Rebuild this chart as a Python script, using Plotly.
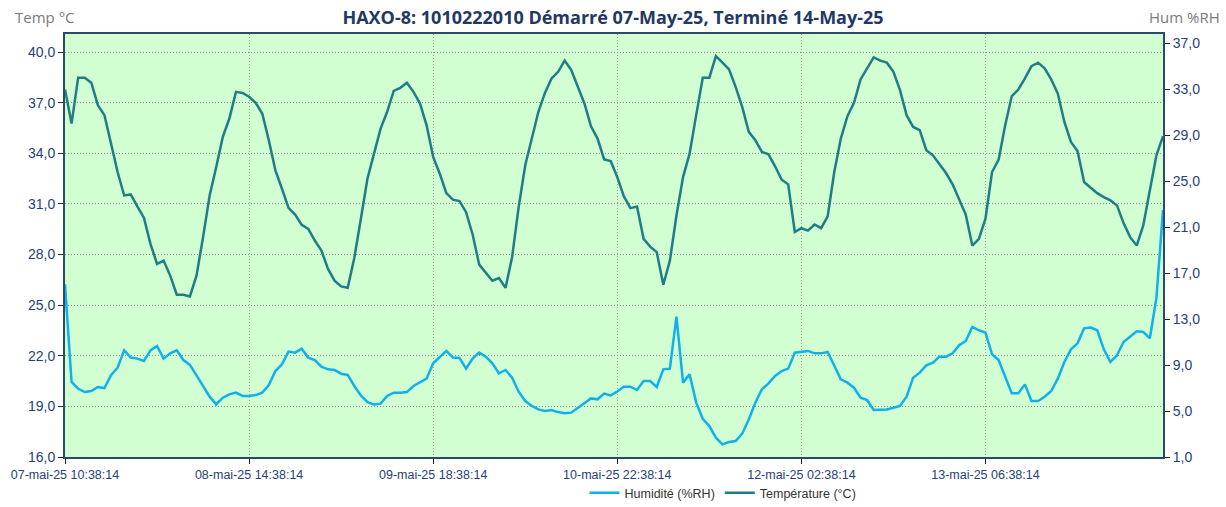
import pandas as pd
import plotly.graph_objects as go

# ---------------- data ----------------
start_time = "2025-05-07 10:38:14"
n_points = 168  # hourly readings

temperature = [
    37.78, 35.76, 38.47, 38.47, 38.18, 36.85, 36.26, 34.57, 32.89, 31.50,
    31.56, 30.85, 30.18, 28.63, 27.44, 27.64, 26.75, 25.62, 25.62, 25.52,
    26.75, 29.03, 31.50, 33.19, 34.97, 36.06, 37.64, 37.58, 37.35, 36.99,
    36.36, 34.77, 32.99, 31.90, 30.77, 30.37, 29.76, 29.52, 28.83, 28.24,
    27.15, 26.45, 26.11, 26.03, 27.79, 30.12, 32.49, 33.98, 35.46, 36.46,
    37.70, 37.88, 38.18, 37.64, 36.95, 35.66, 33.78, 32.79, 31.64, 31.25,
    31.17, 30.51, 29.19, 27.40, 26.95, 26.45, 26.61, 26.02, 27.84, 30.81,
    33.29, 34.87, 36.46, 37.58, 38.44, 38.83, 39.49, 38.93, 37.90, 36.95,
    35.60, 34.87, 33.64, 33.54, 32.59, 31.44, 30.75, 30.85, 28.93, 28.47,
    28.14, 26.21, 27.64, 30.31, 32.59, 33.98, 36.26, 38.48, 38.48, 39.76,
    39.37, 38.97, 37.94, 36.75, 35.27, 34.77, 34.08, 33.94, 33.23, 32.43,
    32.16, 29.33, 29.56, 29.42, 29.78, 29.56, 30.26, 32.89, 34.87, 36.20,
    36.99, 38.38, 39.03, 39.68, 39.49, 39.37, 38.83, 37.74, 36.26, 35.56,
    35.37, 34.18, 33.88, 33.38, 32.83, 32.16, 31.21, 30.37, 28.53, 28.93,
    30.12, 32.89, 33.62, 35.66, 37.39, 37.78, 38.44, 39.17, 39.37, 39.03,
    38.38, 37.54, 35.86, 34.67, 34.14, 32.30, 31.96, 31.64, 31.40, 31.21,
    30.91, 29.86, 29.03, 28.53, 29.72, 31.80, 33.88, 35.01,
]

humidity = [
    16.03, 7.53, 6.94, 6.65, 6.74, 7.09, 7.00, 8.11, 8.77, 10.28,
    9.65, 9.56, 9.36, 10.28, 10.66, 9.56, 10.02, 10.28, 9.44, 9.01,
    8.11, 7.18, 6.25, 5.58, 6.16, 6.45, 6.60, 6.31, 6.31, 6.39,
    6.60, 7.26, 8.48, 9.07, 10.17, 10.08, 10.43, 9.65, 9.44, 8.86,
    8.63, 8.57, 8.25, 8.14, 7.18, 6.36, 5.78, 5.58, 5.64, 6.31,
    6.60, 6.60, 6.65, 7.18, 7.47, 7.82, 9.15, 9.65, 10.23, 9.65,
    9.62, 8.69, 9.56, 10.08, 9.73, 9.15, 8.28, 8.57, 7.90, 6.68,
    5.87, 5.44, 5.14, 5.00, 5.09, 4.91, 4.80, 4.86, 5.29, 5.73,
    6.10, 6.02, 6.52, 6.36, 6.70, 7.12, 7.12, 6.83, 7.61, 7.61,
    7.09, 8.63, 8.69, 13.22, 7.47, 8.19, 5.73, 4.33, 3.69, 2.68,
    2.10, 2.30, 2.39, 3.03, 4.27, 5.73, 6.89, 7.41, 8.05, 8.48,
    8.69, 10.08, 10.14, 10.23, 10.02, 10.02, 10.14, 8.92, 7.76, 7.47,
    7.03, 6.16, 5.96, 5.09, 5.09, 5.14, 5.29, 5.44, 6.25, 7.90,
    8.34, 8.98, 9.21, 9.73, 9.73, 10.02, 10.72, 11.10, 12.32, 12.03,
    11.82, 9.94, 9.44, 8.05, 6.54, 6.54, 7.32, 5.87, 5.87, 6.25,
    6.74, 7.82, 9.27, 10.37, 10.89, 12.20, 12.26, 12.03, 10.37, 9.27,
    9.85, 11.01, 11.47, 11.94, 11.88, 11.33, 14.85, 22.49,
]

x_tick_labels = [
    "07-mai-25 10:38:14", "08-mai-25 14:38:14", "09-mai-25 18:38:14",
    "10-mai-25 22:38:14", "12-mai-25 02:38:14", "13-mai-25 06:38:14",
]
x_tick_times = [
    "2025-05-07 10:38:14", "2025-05-08 14:38:14", "2025-05-09 18:38:14",
    "2025-05-10 22:38:14", "2025-05-12 02:38:14", "2025-05-13 06:38:14",
]
temp_ticks = [16, 19, 22, 25, 28, 31, 34, 37, 40]
hum_ticks = [1, 5, 9, 13, 17, 21, 25, 29, 33, 37]

title_text = "HAXO-8: 1010222010 Démarré 07-May-25, Terminé 14-May-25"
left_title = "Temp °C"
right_title = "Hum %RH"
series_names = ["Humidité (%RH)", "Température (°C)"]

temp_range = [16, 41.07]
hum_range = [1, 37.81]

# ---------------- figure ----------------
times = pd.date_range(start=start_time, periods=n_points, freq="h")

W, H = 1226, 507
ML, MR, MT, MB = 65, 63, 34, 50
PW, PH = W - ML - MR, H - MT - MB

TICK_COL = "#26417A"
FRAME_COL = "#2B4A6B"
LIB = "Liberation Sans, Arial, sans-serif"
OPEN = "Open Sans, Noto Sans, sans-serif"

fig = go.Figure()
fig.add_trace(go.Scatter(
    x=times, y=humidity, name=series_names[0], mode="lines",
    line=dict(color="#12B0EA", width=2.5), yaxis="y2",
))
fig.add_trace(go.Scatter(
    x=times, y=temperature, name=series_names[1], mode="lines",
    line=dict(color="#1E7D86", width=2.5), yaxis="y",
))

fig.update_layout(
    width=W, height=H,
    margin=dict(l=ML, r=MR, t=MT, b=MB, autoexpand=False),
    paper_bgcolor="white",
    plot_bgcolor="#D1FFD1",
    separators=",.",
    title=dict(
        text="<b>" + title_text + "</b>",
        x=0.5, xanchor="center", xref="container",
        y=1 - 18 / H, yanchor="middle",
        font=dict(family=OPEN, size=18, color="#1F3864"),
    ),
    xaxis=dict(
        type="date",
        range=[times[0], times[-1]],
        tickvals=pd.to_datetime(x_tick_times),
        ticktext=x_tick_labels,
        tickfont=dict(family=LIB, size=12.5, color=TICK_COL),
        showgrid=True, gridcolor="#A0A0A0", griddash="1px,2px", gridwidth=1,
        showline=True, linecolor=FRAME_COL, linewidth=2, mirror=True,
        ticks="outside", ticklen=5, tickcolor="#222222",
        zeroline=False,
    ),
    yaxis=dict(
        range=temp_range,
        tickvals=temp_ticks,
        tickformat=".1f",
        tickfont=dict(family=LIB, size=14, color=TICK_COL),
        showgrid=True, gridcolor="#8A8A8A", griddash="1px,2px", gridwidth=1,
        showline=True, linecolor=FRAME_COL, linewidth=2, mirror=True,
        ticks="outside", ticklen=5, tickcolor="#222222",
        zeroline=False,
    ),
    yaxis2=dict(
        range=hum_range, overlaying="y", side="right",
        tickvals=hum_ticks,
        tickformat=".1f",
        tickfont=dict(family=LIB, size=14, color=TICK_COL),
        showgrid=False,
        showline=True, linecolor=FRAME_COL, linewidth=2,
        ticks="outside", ticklen=5, tickcolor="#222222",
        zeroline=False,
    ),
    legend=dict(
        orientation="h", x=(723 - ML) / PW, xanchor="center", xref="paper",
        y=-21 / PH, yanchor="top",
        font=dict(family=LIB, size=12.5, color="#333333"),
        bgcolor="rgba(0,0,0,0)",
    ),
    showlegend=True,
    annotations=[
        dict(text=left_title, xref="paper", yref="paper", x=(13 - ML) / PW, y=1 + 17 / PH,
             xanchor="left", yanchor="middle", showarrow=False,
             font=dict(family=OPEN, size=15, color="#7A7A7A")),
        dict(text=right_title, xref="paper", yref="paper", x=1 + (1222 - ML - PW) / PW, y=1 + 17 / PH,
             xanchor="right", yanchor="middle", showarrow=False,
             font=dict(family=OPEN, size=15, color="#7A7A7A")),
    ],
)

fig.write_html(
    "out.html",
    config={"displayModeBar": False},
    post_script="document.body.style.margin='0px';",
)
